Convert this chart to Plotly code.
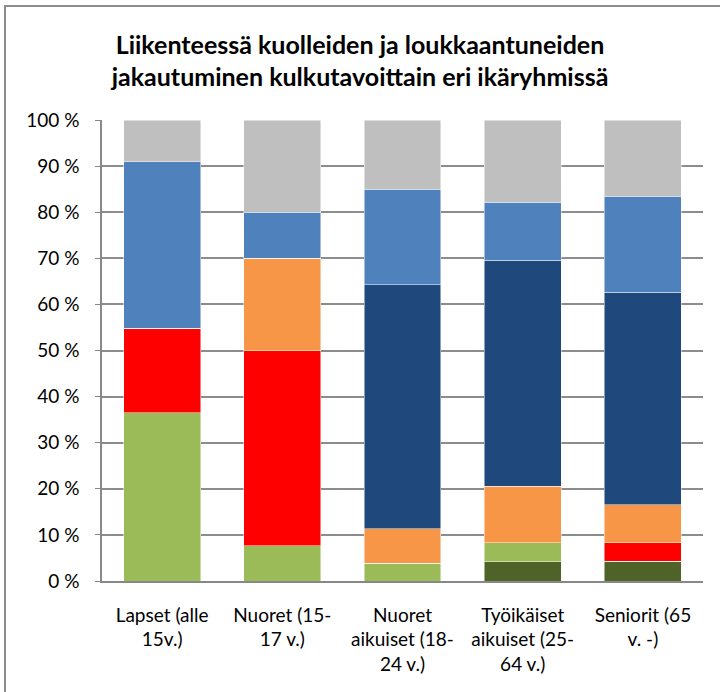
import plotly.graph_objects as go

categories = [
    "Lapset (alle<br>15v.)",
    "Nuoret (15-<br>17 v.)",
    "Nuoret<br>aikuiset (18-<br>24 v.)",
    "Työikäiset<br>aikuiset (25-<br>64 v.)",
    "Seniorit (65<br>v. -)",
]

# share (%) of each mode, bottom to top
jalankulkija = [0.0, 0.0, 0.0, 4.2, 4.3]
polkupyora = [36.5, 7.6, 3.9, 4.1, 0.0]
mopo = [18.3, 42.4, 0.0, 0.0, 4.0]
moottoripyora = [0.0, 20.0, 7.4, 12.3, 8.2]
auton_kuljettaja = [0.0, 0.0, 53.0, 49.0, 46.1]
auton_matkustaja = [36.1, 10.0, 20.7, 12.6, 20.9]
muu = [9.1, 20.0, 15.0, 17.8, 16.5]

series = [
    ("Jalankulkija", jalankulkija, "#4F6228"),
    ("Polkupyörä", polkupyora, "#9BBB59"),
    ("Mopo", mopo, "#FF0000"),
    ("Moottoripyörä", moottoripyora, "#F79646"),
    ("Henkilöauton kuljettaja", auton_kuljettaja, "#1F497D"),
    ("Henkilöauton matkustaja", auton_matkustaja, "#4F81BD"),
    ("Muu", muu, "#BFBFBF"),
]

FONT = "Lato, 'Open Sans', sans-serif"

fig = go.Figure()

for name, values, color in series:
    fig.add_trace(
        go.Bar(
            x=categories,
            y=values,
            name=name,
            marker={"color": color, "line": {"color": "rgba(255,255,255,0.6)", "width": 0.8}},
        )
    )

fig.update_layout(
    barmode="stack",
    bargap=0.36,
    width=720,
    height=692,
    showlegend=False,
    plot_bgcolor="white",
    paper_bgcolor="white",
    font={"family": FONT, "size": 19, "color": "#000000"},
    margin={"l": 102, "r": 17, "t": 120, "b": 111},
    title={
        "text": "<b>Liikenteessä kuolleiden ja loukkaantuneiden<br>jakautuminen kulkutavoittain eri ikäryhmissä</b>",
        "x": 0.5,
        "xanchor": "center",
        "y": 0.922,
        "yanchor": "middle",
        "font": {"size": 25, "family": FONT},
    },
    xaxis={
        "showline": True,
        "linecolor": "#888888",
        "linewidth": 1.5,
        "ticks": "",
        "ticklabelstandoff": 16,
        "tickfont": {"size": 19},
    },
    yaxis={
        "range": [0, 100],
        "tickvals": [0, 10, 20, 30, 40, 50, 60, 70, 80, 90, 100],
        "ticktext": ["0 %", "10 %", "20 %", "30 %", "40 %", "50 %", "60 %", "70 %", "80 %", "90 %", "100 %"],
        "showgrid": True,
        "gridcolor": "#8C8C8C",
        "gridwidth": 1.5,
        "showline": True,
        "linecolor": "#888888",
        "linewidth": 1.5,
        "ticks": "outside",
        "ticklen": 5,
        "tickcolor": "#888888",
        "ticklabelstandoff": 12,
        "tickfont": {"size": 19},
        "zeroline": False,
    },
)

# chart border: only its left and top edges fall inside the picture
px_x = lambda p: (p - 102) / 601
px_y = lambda p: (581 - p) / 461
fig.add_shape(
    type="rect", xref="paper", yref="paper", layer="above",
    x0=px_x(4), x1=px_x(6), y0=px_y(692), y1=px_y(5),
    line={"width": 0}, fillcolor="#8C8C8C",
)
fig.add_shape(
    type="rect", xref="paper", yref="paper", layer="above",
    x0=px_x(4), x1=px_x(720), y0=px_y(7), y1=px_y(5),
    line={"width": 0}, fillcolor="#8C8C8C",
)

fig.write_html(
    "out.html",
    config={"displayModeBar": False},
    post_script="document.body.style.margin = '0';",
)
